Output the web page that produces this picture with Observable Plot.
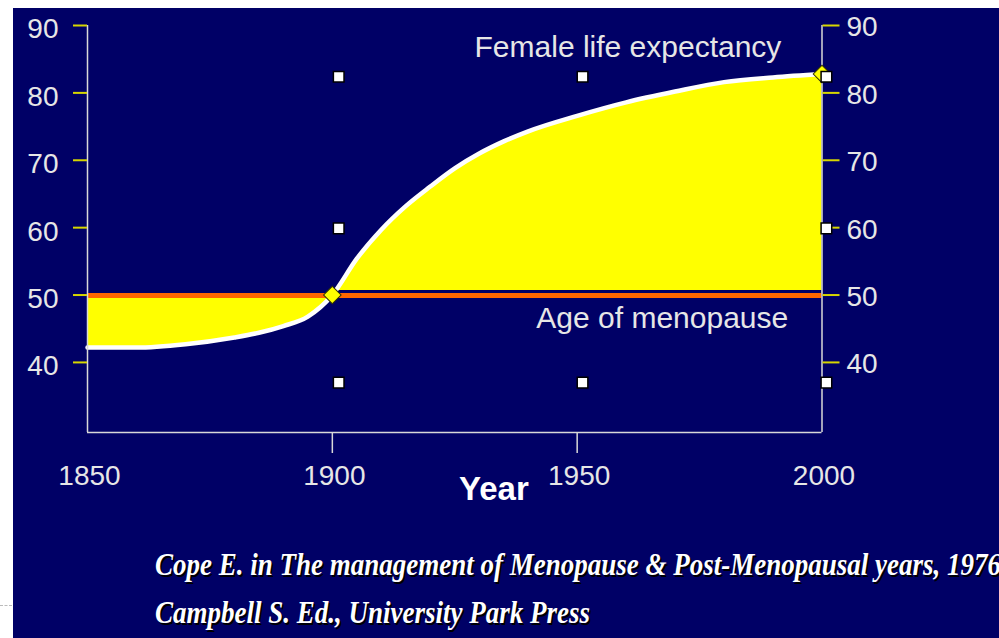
<!DOCTYPE html>
<html><head><meta charset="utf-8">
<script src="https://cdn.jsdelivr.net/npm/d3@7"></script>
<script src="https://cdn.jsdelivr.net/npm/@observablehq/plot@0.6"></script>
<style>
html,body{margin:0;padding:0;background:#fff;width:999px;height:638px;overflow:hidden;}
#panel{position:absolute;left:13px;top:8px;width:986px;height:630px;background:#000066;overflow:hidden;}
#chart svg{display:block}
#caption{padding:13px 0 0 142px;font-family:"Liberation Serif","Times New Roman",serif;font-style:italic;font-weight:bold;font-size:31px;line-height:48px;color:#fff;text-shadow:2px 2px 0 #000;white-space:nowrap;transform-origin:142px 0;}
#dash{position:absolute;left:0;top:605px;width:12px;border-top:1px dashed #bbb;}
</style></head>
<body>
<div id="dash"></div>
<div id="panel">
  <div id="chart"></div>
  <div id="caption">
    <div><span id="l1">Cope E. in The management of Menopause &amp; Post-Menopausal years, 1976</span></div>
    <div><span id="l2">Campbell S. Ed., University Park Press</span></div>
  </div>
</div>
<script>
// ---- data ----
const years = [1850, 1860, 1870, 1880, 1885, 1890, 1895, 1900, 1905, 1910, 1915, 1920, 1925, 1930, 1935, 1940, 1950, 1960, 1970, 1980, 1990, 2000];
const lifeExpectancy = [42.2, 42.2, 42.7, 43.7, 44.4, 45.4, 46.8, 50, 55.4, 59.7, 63.2, 66.1, 68.8, 71, 72.8, 74.3, 76.6, 78.6, 80.2, 81.6, 82.3, 82.8];
const menopauseAge = 50;
const markerYears = [1900, 2000];
const yTicks = [40, 50, 60, 70, 80, 90];
const xTicks = [1850, 1900, 1950, 2000];
const xTickMarks = [1900, 1950];
const handleX = [1901.3, 1951.1, 2000.9];
const handleY = [82.4, 59.9, 37.0];
const labels = ["Female life expectancy", "Age of menopause", "Year"];

// ---- derived tables ----
const rows = years.map((year, i) => ({year, value: lifeExpectancy[i], menopause: menopauseAge}));
const markers = markerYears.map(y => ({year: y, value: lifeExpectancy[years.indexOf(y)]}));
const handles = [];
handleY.forEach((hy, j) => handleX.forEach((hx, i) => { if (!(i === 1 && j === 1)) handles.push({x: hx, y: hy}); }));

const navy = "#000066";
const axisColor = "#d8d8d8";
const textColor = "#e6e6e6";
const tickYellow = "#d6d600";
const yMin = 29.6;

const chart = Plot.plot({
  width: 986, height: 520,
  marginLeft: 74, marginRight: 177.5, marginTop: 17, marginBottom: 96,
  x: {domain: [1850, 2000]},
  y: {domain: [yMin, 90]},
  style: {background: "transparent", fontFamily: '"Liberation Sans", Arial, sans-serif', color: textColor},
  marks: [
    Plot.areaY(rows, {x: "year", y1: "menopause", y2: "value", fill: "#ffff00", curve: "monotone-x"}),
    Plot.ruleY([menopauseAge], {x1: () => 1900, x2: () => 2000, stroke: navy, strokeWidth: 8, dy: -1}),
    Plot.ruleY([menopauseAge], {x1: () => 1850, x2: () => 2000, stroke: "#ff6600", strokeWidth: 5, dy: 0.5}),
    Plot.lineY(rows, {x: "year", y: "value", stroke: "#ffffff", strokeWidth: 4.5, curve: "monotone-x"}),
    // frame
    Plot.ruleX([1850, 2000], {y1: () => yMin, y2: () => 90, stroke: axisColor, strokeWidth: 1.5}),
    Plot.ruleY([yMin], {x1: () => 1850, x2: () => 2000, stroke: axisColor, strokeWidth: 1.5}),
    // y axes (ticks and labels drawn separately)
    Plot.axisY(yTicks, {anchor: "left", tickSize: 14, tickFormat: () => "", stroke: tickYellow, strokeWidth: 2, label: null}),
    Plot.axisY(yTicks, {anchor: "left", tickSize: 0, tickPadding: 29, fontSize: 28, fill: textColor, dy: 4, label: null}),
    Plot.axisY(yTicks, {anchor: "right", tickSize: 17, tickFormat: () => "", stroke: tickYellow, strokeWidth: 2, label: null}),
    Plot.axisY(yTicks, {anchor: "right", tickSize: 0, tickPadding: 24.5, fontSize: 28, fill: textColor, dy: 2, label: null}),
    // x axis
    Plot.axisX(xTickMarks, {anchor: "bottom", tickSize: 21, tickFormat: () => "", stroke: axisColor, strokeWidth: 1.5, label: null}),
    Plot.axisX(xTicks, {anchor: "bottom", tickSize: 0, tickPadding: 33, fontSize: 28, fill: textColor, dx: 2, tickFormat: d => String(d), label: null}),
    // labels
    Plot.text([labels[0]], {x: () => 1991.7, y: () => 86.78, text: d => d, textAnchor: "end", fontSize: 30, fill: textColor}),
    Plot.text([labels[1]], {x: () => 1993.1, y: () => 46.56, text: d => d, textAnchor: "end", fontSize: 30, fill: textColor}),
    Plot.text([labels[2]], {x: () => 1933, frameAnchor: "bottom", dy: 67, text: d => d, fontSize: 33, fontWeight: "bold", fill: "#ffffff"}),
    // markers
    Plot.dot(markers, {x: "year", y: "value", symbol: "square", r: 7, rotate: 45, fill: "#ffff00", stroke: "#333300", strokeWidth: 1}),
    Plot.dot(handles, {x: "x", y: "y", symbol: "square", r: 6, fill: "#ffffff", stroke: "#000000", strokeWidth: 1.5})
  ]
});
document.getElementById("chart").append(chart);

// condense caption like the reference
const l2 = document.getElementById("l2");
const w = l2.getBoundingClientRect().width;
const k = 435 / w;
document.getElementById("caption").style.transform = `scaleX(${k})`;
</script>
</body></html>
